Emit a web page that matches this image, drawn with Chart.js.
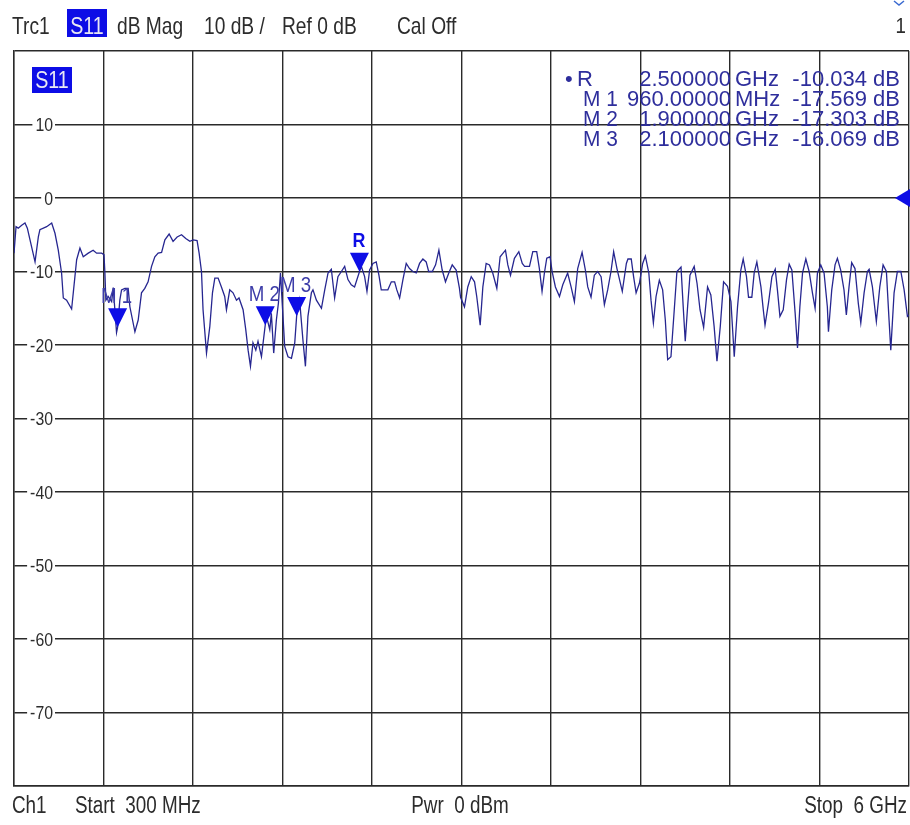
<!DOCTYPE html>
<html>
<head>
<meta charset="utf-8">
<script src="https://cdn.jsdelivr.net/npm/chart.js@4.4.1/dist/chart.umd.min.js"></script>
<style>
  html, body { margin: 0; padding: 0; background: #ffffff; }
  canvas { display: block; }
</style>
</head>
<body>
<canvas id="vna" width="910" height="825"></canvas>
<script>
// S11 sweep, 300 MHz .. 6 GHz (frequency in MHz, magnitude in dB)
const freqMHz = [
  300,313,327,349,370,385,402,434,455,465,
  508,540,561,582,603,614,635,667,688,699,
  720,741,773,804,826,858,873,879,885,900,
  922,932,953,960,974,985,1006,1027,1038,1070,
  1091,1112,1133,1154,1176,1197,1218,1240,1261,1288,
  1313,1339,1367,1394,1420,1441,1466,1479,1494,1504,
  1526,1547,1564,1579,1600,1621,1642,1653,1674,1695,
  1717,1733,1759,1776,1791,1806,1822,1840,1854,1876,
  1900,1908,1929,1939,1954,1971,1984,1997,2013,2024,
  2045,2067,2088,2100,2119,2140,2156,2172,2194,2204,
  2226,2258,2279,2300,2321,2342,2363,2385,2406,2427,
  2448,2469,2500,2512,2533,2548,2565,2586,2607,2624,
  2639,2660,2681,2703,2724,2738,2756,2777,2798,2819,
  2840,2862,2883,2904,2925,2941,2964,2985,3006,3027,
  3048,3069,3091,3116,3137,3144,3169,3190,3212,3233,
  3247,3269,3286,3307,3328,3349,3375,3396,3430,3445,
  3462,3487,3515,3537,3552,3583,3604,3629,3646,3663,
  3678,3693,3714,3727,3748,3774,3795,3826,3848,3869,
  3890,3918,3939,3954,3975,3996,4017,4039,4060,4081,
  4102,4119,4140,4174,4200,4210,4231,4246,4262,4283,
  4304,4321,4343,4357,4372,4389,4410,4431,4448,4463,
  4484,4505,4522,4548,4562,4575,4590,4605,4632,4650,
  4669,4692,4717,4738,4759,4777,4798,4819,4844,4866,
  4887,4908,4929,4944,4965,4978,4999,5014,5031,5057,
  5072,5083,5105,5127,5148,5162,5178,5199,5220,5237,
  5254,5275,5290,5305,5322,5343,5364,5385,5402,5417,
  5438,5459,5480,5487,5508,5529,5544,5565,5586,5601,
  5618,5635,5656,5677,5693,5714,5735,5746,5767,5792,
  5814,5835,5856,5873,5884,5905,5926,5948,5969,5990,6000
];
const s11dB = [
  -7.5,-3.9,-4.1,-3.7,-3.4,-4.1,-5.7,-8.7,-5.3,-4.3,
  -3.9,-3.4,-4.8,-7.1,-10.2,-13.6,-13.9,-15.1,-10.7,-8.4,
  -6.8,-8.0,-7.5,-7.1,-7.5,-7.5,-7.7,-10.2,-13.9,-13.4,
  -14.1,-12.2,-18.3,-17.569,-13.9,-12.5,-12.3,-12.3,-14.8,-18.2,
  -16.6,-12.9,-12.3,-11.4,-9.3,-8.0,-7.5,-7.4,-5.7,-4.9,
  -5.9,-5.3,-5.0,-5.5,-5.9,-5.7,-5.8,-7.5,-10.0,-15.2,
  -21.1,-17.5,-12.9,-10.9,-10.9,-12.1,-13.4,-15.2,-12.5,-12.9,
  -13.9,-13.6,-15.2,-17.9,-20.7,-22.9,-19.7,-20.7,-19.5,-21.6,
  -17.303,-16.1,-17.9,-15.7,-21.1,-16.6,-14.3,-10.2,-16.1,-20.2,
  -21.6,-21.8,-19.7,-16.069,-13.9,-19.3,-22.9,-16.1,-12.9,-12.5,
  -13.9,-15.0,-12.5,-10.2,-9.7,-13.6,-10.7,-10.0,-9.3,-11.1,
  -11.8,-12.1,-10.034,-9.3,-10.7,-12.7,-9.8,-8.9,-8.7,-10.5,
  -12.5,-12.5,-12.5,-11.4,-11.4,-12.5,-13.6,-11.1,-8.9,-9.6,
  -10.0,-10.2,-8.9,-8.3,-8.7,-10.0,-10.0,-9.1,-7.1,-9.8,
  -11.4,-10.2,-9.1,-9.8,-12.3,-13.5,-14.8,-12.1,-10.7,-11.4,
  -13.4,-17.3,-12.1,-8.9,-9.1,-10.2,-12.3,-8.0,-7.1,-9.1,
  -10.5,-8.2,-7.3,-8.9,-9.3,-9.3,-7.3,-7.3,-9.6,-12.7,
  -10.2,-8.2,-8.0,-10.0,-12.1,-13.4,-11.8,-10.2,-12.1,-14.1,
  -9.6,-7.4,-9.8,-12.1,-13.5,-10.5,-10.0,-10.7,-14.5,-12.5,
  -10.0,-7.3,-9.6,-12.7,-8.9,-8.3,-8.3,-10.7,-12.9,-11.6,
  -8.9,-7.9,-10.2,-13.9,-17.0,-13.4,-11.2,-12.5,-16.6,-22.0,
  -21.6,-15.2,-10.0,-9.4,-14.8,-19.5,-14.8,-10.5,-9.3,-11.6,
  -15.2,-17.6,-12.1,-13.2,-17.5,-22.2,-17.5,-11.4,-12.0,-14.1,
  -21.6,-14.8,-9.8,-8.3,-10.7,-13.5,-13.5,-10.2,-8.7,-12.1,
  -15.2,-17.3,-14.3,-10.7,-9.7,-12.5,-16.1,-15.2,-11.1,-9.0,
  -9.8,-15.7,-20.4,-14.8,-10.2,-8.3,-10.0,-12.9,-15.0,-10.2,
  -9.1,-10.2,-14.8,-18.2,-12.5,-9.1,-8.2,-9.8,-12.5,-15.9,
  -12.1,-8.8,-9.6,-14.3,-17.0,-12.9,-10.0,-9.7,-12.1,-16.8,
  -12.1,-9.1,-10.0,-16.6,-20.7,-12.9,-10.0,-10.0,-12.5,-16.1,-15.9
];

// Markers (reference marker R plus M1..M3)
const markerNames    = ['R', 'M 1', 'M 2', 'M 3'];
const markerFreqMHz  = [2500, 960, 1900, 2100];
const markerDB       = [-10.034, -17.569, -17.303, -16.069];
const markerFreqText = ['2.500000', '960.00000', '1.900000', '2.100000'];
const markerUnit     = ['GHz', 'MHz', 'GHz', 'GHz'];

// Axis divisions
const xGridMHz   = [300, 870, 1440, 2010, 2580, 3150, 3720, 4290, 4860, 5430, 6000];
const yGridDB    = [20, 10, 0, -10, -20, -30, -40, -50, -60, -70, -80];
const yTickLabel = [10, 0, -10, -20, -30, -40, -50, -60, -70];
const refLevelDB = 0;

const FONT = '"Liberation Sans", Arial, Helvetica, sans-serif';
const TEXT = '#2c2c2c';
const NAVY = '#2e2e9c';
const BLUE = '#0d0de6';
const GRID = '#2a2a2a';

// draw text with a horizontal squeeze (display font is narrow)
function put(ctx, s, x, y, size, color, opt) {
  opt = opt || {};
  ctx.save();
  ctx.font = (opt.bold ? 'bold ' : '') + size + 'px ' + FONT;
  ctx.fillStyle = color;
  ctx.textBaseline = 'alphabetic';
  ctx.textAlign = opt.align || 'left';
  ctx.translate(x, y);
  ctx.scale(opt.sx || 0.82, 1);
  ctx.fillText(s, 0, 0);
  ctx.restore();
}
function widthOf(ctx, s, size, sx, bold) {
  ctx.save();
  ctx.font = (bold ? 'bold ' : '') + size + 'px ' + FONT;
  const w = ctx.measureText(s).width * sx;
  ctx.restore();
  return w;
}

const screenPlugin = {
  id: 'screen',
  beforeDraw(chart) {
    const ctx = chart.ctx;
    ctx.save();
    ctx.fillStyle = '#ffffff';
    ctx.fillRect(0, 0, chart.width, chart.height);
    ctx.restore();
  },
  beforeDatasetsDraw(chart) {
    // dB labels sitting on the horizontal grid lines
    const ctx = chart.ctx, ys = chart.scales.y;
    const size = 18, sx = 0.88;
    yTickLabel.forEach(v => {
      const py = ys.getPixelForValue(v);
      const s = String(v);
      const w = widthOf(ctx, s, size, sx);
      ctx.save();
      ctx.fillStyle = '#ffffff';
      ctx.fillRect(53 - w - 3, py - 2, w + 5, 4);
      ctx.restore();
      put(ctx, s, 53, py + 6.5, size, TEXT, { align: 'right', sx });
    });
  },
  afterDatasetsDraw(chart) {
    const ctx = chart.ctx, xs = chart.scales.x, ys = chart.scales.y;
    const area = chart.chartArea;

    // marker triangles and their labels
    markerNames.forEach((name, i) => {
      const px = xs.getPixelForValue(markerFreqMHz[i]);
      const py = ys.getPixelForValue(markerDB[i]);
      ctx.save();
      ctx.fillStyle = BLUE;
      ctx.beginPath();
      ctx.moveTo(px, py);
      ctx.lineTo(px - 9.5, py - 19);
      ctx.lineTo(px + 9.5, py - 19);
      ctx.closePath();
      ctx.fill();
      ctx.restore();
      if (name === 'R') {
        put(ctx, 'R', px - 0.5, py - 25, 21, BLUE, { align: 'center', sx: 0.85, bold: true });
      } else {
        put(ctx, name, px - 1, py - 24, 22, '#3c3ca8', { align: 'center', sx: 0.85 });
      }
    });

    // reference level arrow on the right edge
    const ry = ys.getPixelForValue(refLevelDB);
    ctx.save();
    ctx.fillStyle = BLUE;
    ctx.beginPath();
    ctx.moveTo(area.right - 14, ry);
    ctx.lineTo(area.right + 2, ry - 9.5);
    ctx.lineTo(area.right + 2, ry + 9.5);
    ctx.closePath();
    ctx.fill();
    ctx.restore();

    // trace label box
    ctx.save();
    ctx.fillStyle = BLUE;
    ctx.fillRect(32, 67, 40, 26);
    ctx.restore();
    put(ctx, 'S11', 52, 88, 24, '#e8e8f4', { align: 'center', sx: 0.82 });

    // marker readout table
    const rowY = [86, 106, 126, 146];
    markerNames.forEach((name, i) => {
      const y = rowY[i];
      if (name === 'R') {
        put(ctx, '\u2022', 565, y, 22, NAVY, { sx: 1 });
        put(ctx, name, 577, y, 22, NAVY, { sx: 1 });
      } else {
        put(ctx, name, 583, y, 22, NAVY, { sx: 0.95 });
      }
      put(ctx, markerFreqText[i], 731, y, 22, NAVY, { align: 'right', sx: 1 });
      put(ctx, markerUnit[i], 735, y, 22, NAVY, { sx: 1 });
      put(ctx, markerDB[i].toFixed(3) + ' dB', 900, y, 22, NAVY, { align: 'right', sx: 1 });
    });
  },
  afterDraw(chart) {
    const ctx = chart.ctx;
    // header line
    const hb = 34, hs = 24, hsx = 0.8;
    put(ctx, 'Trc1', 12, hb, hs, TEXT, { sx: hsx });
    ctx.save();
    ctx.fillStyle = BLUE;
    ctx.fillRect(67, 9, 40, 28);
    ctx.restore();
    put(ctx, 'S11', 87, hb, hs, '#e8e8f4', { align: 'center', sx: 0.82 });
    put(ctx, 'dB Mag', 117, hb, hs, TEXT, { sx: hsx });
    put(ctx, '10 dB /', 204, hb, hs, TEXT, { sx: hsx });
    put(ctx, 'Ref 0 dB', 282, hb, hs, TEXT, { sx: hsx });
    put(ctx, 'Cal Off', 397, hb, hs, TEXT, { sx: hsx });
    put(ctx, '1', 906, hb - 1, 22, TEXT, { align: 'right', sx: 0.85 });
    // channel indicator chevron
    ctx.save();
    ctx.strokeStyle = '#3a6ad0';
    ctx.lineWidth = 1.5;
    ctx.beginPath();
    ctx.moveTo(894, 1); ctx.lineTo(899, 5); ctx.lineTo(904, 1);
    ctx.stroke();
    ctx.restore();

    // footer line
    const fb = 813, fs = 23, fsx = 0.82;
    put(ctx, 'Ch1', 12, fb, fs, TEXT, { sx: fsx });
    put(ctx, 'Start  300 MHz', 75, fb, fs, TEXT, { sx: fsx });
    put(ctx, 'Pwr  0 dBm', 460, fb, fs, TEXT, { align: 'center', sx: fsx });
    put(ctx, 'Stop  6 GHz', 907, fb, fs, TEXT, { align: 'right', sx: fsx });
  }
};

new Chart(document.getElementById('vna'), {
  type: 'line',
  data: {
    datasets: [{
      label: 'S11',
      data: freqMHz.map((f, i) => ({ x: f, y: s11dB[i] })),
      borderColor: '#262690',
      borderWidth: 1.3,
      pointRadius: 0,
      tension: 0,
      fill: false
    }]
  },
  options: {
    responsive: false,
    animation: false,
    events: [],
    layout: { padding: { left: 14, top: 51, right: 1, bottom: 39 } },
    plugins: { legend: { display: false }, tooltip: { enabled: false } },
    scales: {
      x: {
        type: 'linear', min: 300, max: 6000,
        afterBuildTicks(s) { s.ticks = xGridMHz.map(v => ({ value: v })); },
        afterFit(s) { s.height = 0; },
        ticks: { display: false },
        grid: { color: GRID, lineWidth: 1.4, drawTicks: false },
        border: { display: true, color: GRID, width: 1.4 }
      },
      y: {
        type: 'linear', min: -80, max: 20,
        afterBuildTicks(s) { s.ticks = yGridDB.map(v => ({ value: v })); },
        afterFit(s) { s.width = 0; },
        ticks: { display: false },
        grid: { color: GRID, lineWidth: 1.4, drawTicks: false },
        border: { display: true, color: GRID, width: 1.4 }
      }
    }
  },
  plugins: [screenPlugin]
});
</script>
</body>
</html>
